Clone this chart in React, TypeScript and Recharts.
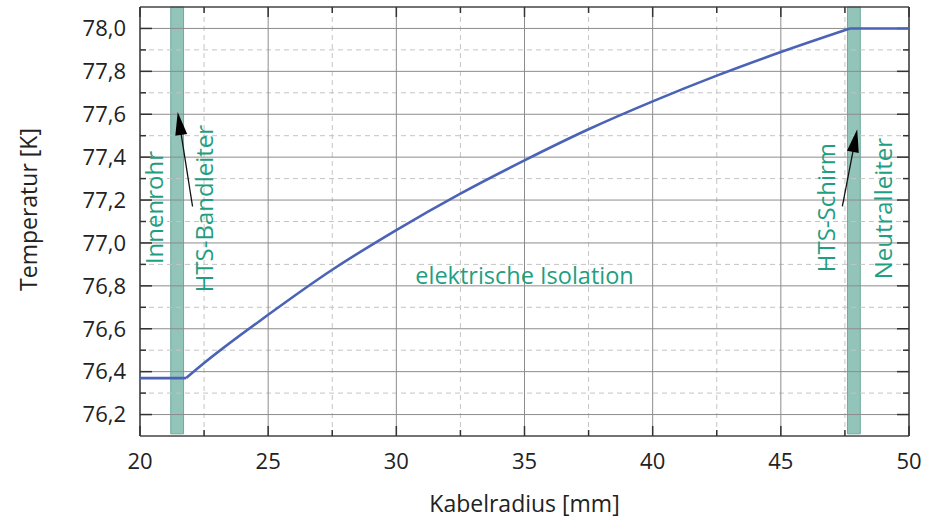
import React from 'react';
import {
  LineChart,
  Line,
  XAxis,
  YAxis,
  ReferenceLine,
  ReferenceArea,
  ReferenceDot,
} from 'recharts';

// Kabelradius [mm] and temperature [K]
const radius = [20, 21.8, 22.5, 25, 27.5, 30, 32.5, 35, 37.5, 40, 42.5, 45, 47.7, 50];
const temperature = [76.37, 76.37, 76.44, 76.665, 76.875, 77.06, 77.23, 77.385, 77.53, 77.66, 77.78, 77.89, 78.0, 78.0];

const xTicks = [20, 25, 30, 35, 40, 45, 50];
const xMinor = [22.5, 27.5, 32.5, 37.5, 42.5, 47.5];
const yTicks = [76.2, 76.4, 76.6, 76.8, 77.0, 77.2, 77.4, 77.6, 77.8, 78.0];
const yMinor = [76.3, 76.5, 76.7, 76.9, 77.1, 77.3, 77.5, 77.7, 77.9];

const xDomain = [20, 50];
const yDomain = [76.1, 78.1];

// layer bands (x from / to)
const bands = [
  [21.2, 21.7],
  [47.6, 48.1],
];

// rotated layer labels: text, x, y
const layerLabels = [
  { text: 'Innenrohr', x: 20.58, y: 77.165 },
  { text: 'HTS-Bandleiter', x: 22.53, y: 77.16 },
  { text: 'HTS-Schirm', x: 46.8, y: 77.165 },
  { text: 'Neutralleiter', x: 49.02, y: 77.16 },
];
const centerLabel = { text: 'elektrische Isolation', x: 35.0, y: 76.847 };

// arrows: tail -> tip
const arrows = [
  { from: [22.05, 77.17], to: [21.47, 77.61] },
  { from: [47.4, 77.17], to: [47.98, 77.53] },
];

const points = radius.map((r, i) => ({ r, t: temperature[i] }));
// flat part inside the tube, the insulation curve, flat part outside the screen
const leftFlat = points.slice(0, 2);
const curve = points.slice(1, 13);
const rightFlat = points.slice(12);

const TEAL = '#1f9e82';
const BLUE = '#4a63b6';
const fmt = (v: number) => v.toFixed(1).replace('.', ',');

function Arrow(props: any) {
  const { x1, y1, x2, y2 } = props;
  const dx = x2 - x1;
  const dy = y2 - y1;
  const len = Math.sqrt(dx * dx + dy * dy);
  const ux = dx / len;
  const uy = dy / len;
  const headL = 23;
  const headW = 6;
  const bx = x2 - ux * headL;
  const by = y2 - uy * headL;
  const pts = `${x2},${y2} ${bx - uy * headW},${by + ux * headW} ${bx + uy * headW},${by - ux * headW}`;
  return (
    <g>
      <line x1={x1} y1={y1} x2={bx + ux * 4} y2={by + uy * 4} stroke="#111" strokeWidth={1.3} />
      <polygon points={pts} fill="#000" />
    </g>
  );
}

export default function App() {
  const major = 12;
  const minor = 6;
  const pxX = 769 / 30;
  const pxY = 429 / 2;

  return (
    <div style={{ position: 'absolute', left: 0, top: 0, fontFamily: '"Open Sans", sans-serif' }}>
      <LineChart
        width={936}
        height={523}
        margin={{ top: 7, right: 27, left: 0, bottom: 0 }}
      >
        <XAxis
          dataKey="r"
          type="number"
          domain={xDomain}
          ticks={xTicks}
          allowDataOverflow
          height={87}
          tickLine={false}
          axisLine={false}
          tickSize={6}
          tickMargin={11}
          tick={{ fontSize: 22, fill: '#222' }}
          label={{ value: 'Kabelradius [mm]', position: 'insideBottom', offset: 11, fontSize: 23, fill: '#222' }}
        />
        <YAxis
          type="number"
          domain={yDomain}
          ticks={yTicks}
          allowDataOverflow
          width={140}
          tickLine={false}
          axisLine={false}
          tickSize={6}
          tickMargin={8}
          tickFormatter={fmt}
          tick={{ fontSize: 22, fill: '#222' }}
          label={{
            content: (p: any) => {
              const vb = p.viewBox;
              const cx = 28;
              const cy = vb.y + vb.height / 2 - 12;
              return (
                <text
                  x={cx}
                  y={cy}
                  transform={`rotate(-90, ${cx}, ${cy})`}
                  textAnchor="middle"
                  dominantBaseline="central"
                  fontSize={23}
                  fill="#222"
                >
                  Temperatur [K]
                </text>
              );
            },
          }}
        />

        {/* grid */}
        {yMinor.map((v) => (
          <ReferenceLine key={`ym${v}`} y={v} stroke="#c4c4c4" strokeDasharray="5 4" />
        ))}
        {xMinor.map((v) => (
          <ReferenceLine key={`xm${v}`} x={v} stroke="#c4c4c4" strokeDasharray="5 4" />
        ))}
        {yTicks.map((v) => (
          <ReferenceLine key={`yg${v}`} y={v} stroke="#8c8c8c" />
        ))}
        {xTicks.map((v) => (
          <ReferenceLine key={`xg${v}`} x={v} stroke="#8c8c8c" />
        ))}

        {/* layer bands */}
        {bands.map(([a, b]) => (
          <ReferenceArea
            key={`b${a}`}
            x1={a}
            x2={b}
            y1={76.11}
            y2={78.1}
            fill="#93c4ba"
            fillOpacity={1}
            stroke="#6ea89c"
            strokeWidth={1}
          />
        ))}

        {/* frame */}
        <ReferenceLine x={xDomain[0]} stroke="#444" strokeWidth={1.5} />
        <ReferenceLine x={xDomain[1]} stroke="#444" strokeWidth={1.5} />
        <ReferenceLine y={yDomain[0]} stroke="#444" strokeWidth={1.5} />
        <ReferenceLine y={yDomain[1]} stroke="#444" strokeWidth={1.5} />

        {/* inward tick marks */}
        {yTicks.map((v) => (
          <ReferenceLine key={`tl${v}`} segment={[{ x: 20, y: v }, { x: 20 + major / pxX, y: v }]} stroke="#333" strokeWidth={1.5} />
        ))}
        {yTicks.map((v) => (
          <ReferenceLine key={`tr${v}`} segment={[{ x: 50 - major / pxX, y: v }, { x: 50, y: v }]} stroke="#333" strokeWidth={1.5} />
        ))}
        {yMinor.map((v) => (
          <ReferenceLine key={`tlm${v}`} segment={[{ x: 20, y: v }, { x: 20 + minor / pxX, y: v }]} stroke="#333" strokeWidth={1.5} />
        ))}
        {yMinor.map((v) => (
          <ReferenceLine key={`trm${v}`} segment={[{ x: 50 - minor / pxX, y: v }, { x: 50, y: v }]} stroke="#333" strokeWidth={1.5} />
        ))}
        {xTicks.map((v) => (
          <ReferenceLine key={`tb${v}`} segment={[{ x: v, y: 76.1 }, { x: v, y: 76.1 + (major - 2) / pxY }]} stroke="#333" strokeWidth={1.5} />
        ))}
        {xTicks.map((v) => (
          <ReferenceLine key={`tt${v}`} segment={[{ x: v, y: 78.1 - (major - 2) / pxY }, { x: v, y: 78.1 }]} stroke="#333" strokeWidth={1.5} />
        ))}
        {xMinor.map((v) => (
          <ReferenceLine key={`tbm${v}`} segment={[{ x: v, y: 76.1 }, { x: v, y: 76.1 + minor / pxY }]} stroke="#333" strokeWidth={1.5} />
        ))}
        {xMinor.map((v) => (
          <ReferenceLine key={`ttm${v}`} segment={[{ x: v, y: 78.1 - minor / pxY }, { x: v, y: 78.1 }]} stroke="#333" strokeWidth={1.5} />
        ))}

        <Line data={leftFlat} type="linear" dataKey="t" stroke={BLUE} strokeWidth={2.6} dot={false} activeDot={false} isAnimationActive={false} />
        <Line data={curve} type="monotone" dataKey="t" stroke={BLUE} strokeWidth={2.6} dot={false} activeDot={false} isAnimationActive={false} />
        <Line data={rightFlat} type="linear" dataKey="t" stroke={BLUE} strokeWidth={2.6} dot={false} activeDot={false} isAnimationActive={false} />

        {/* annotations */}
        {layerLabels.map((l) => (
          <ReferenceDot
            key={l.text}
            x={l.x}
            y={l.y}
            r={0}
            stroke="none"
            fill="none"
            label={{ value: l.text, position: 'center', angle: -90, fill: TEAL, fontSize: 24 }}
          />
        ))}
        <ReferenceDot
          x={centerLabel.x}
          y={centerLabel.y}
          r={0}
          stroke="none"
          fill="none"
          label={{ value: centerLabel.text, position: 'center', fill: TEAL, fontSize: 23.5 }}
        />
        {arrows.map((a, i) => (
          <ReferenceLine
            key={`a${i}`}
            segment={[{ x: a.from[0], y: a.from[1] }, { x: a.to[0], y: a.to[1] }]}
            shape={<Arrow />}
          />
        ))}
      </LineChart>
    </div>
  );
}
